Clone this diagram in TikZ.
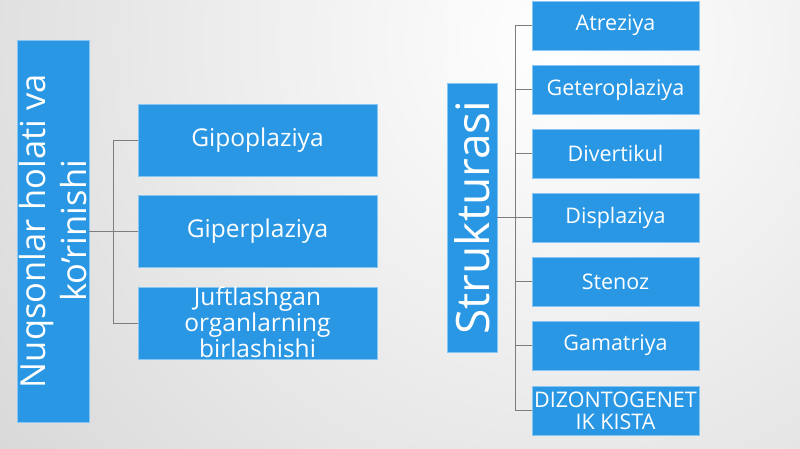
\documentclass[tikz,border=0pt]{standalone}
\usepackage{fontspec}
\setmainfont{Open Sans}
\definecolor{boxblue}{RGB}{41,151,228}
\definecolor{boxedge}{RGB}{135,198,242}
\definecolor{linegray}{RGB}{125,125,125}
\begin{document}
\begin{tikzpicture}[x=1pt, y=-1pt,
    box/.style={fill=boxblue, draw=boxedge, line width=0.8pt, text=white, inner sep=0pt, align=center},
    leftleaf/.style={box, minimum width=239pt, minimum height=72pt, font=\fontsize{24.5}{26}\selectfont},
    rightleaf/.style={box, minimum width=167pt, minimum height=49pt, font=\fontsize{21.5}{22}\selectfont},
    conn/.style={draw=linegray, line width=0.9pt}]
            \useasboundingbox (0, 0) rectangle (800, 449);
            \begin{scope}
                \clip (0, 0) rectangle (800, 449);
                \shade[inner color=white, outer color=gray!30] (560, 40) circle (700);
            \end{scope}
            \node[box, rotate=90, minimum width=382pt, minimum height=72pt, font=\fontsize{34.5}{41}\selectfont](1) at (53, 231) {Nuqsonlar holati va\\ko’rinishi};
            \node[leftleaf](2) at (257.5, 140) {Gipoplaziya};
            \node[leftleaf](3) at (257.5, 231.5) {Giperplaziya};
            \node[leftleaf](4) at (257.5, 323) {};
            \node[text=white, align=center, font=\fontsize{24.5}{26}\selectfont](5) at (257.5, 322) {Juftlashgan\\organlarning\\birlashishi};
            \coordinate(t1) at (113, 231);
            \draw[conn] (1.south) -- (t1) (t1) |- (2.west) (t1) |- (3.west) (t1) |- (4.west);
            \node[box, rotate=90, minimum width=269pt, minimum height=50pt, font=\fontsize{46}{50}\selectfont](6) at (472, 217.5) {Strukturasi};
            \node[rightleaf](7) at (615.5, 25.5) {Atreziya};
            \node[rightleaf](8) at (615.5, 89.5) {Geteroplaziya};
            \node[rightleaf](9) at (615.5, 153.5) {Divertikul};
            \node[rightleaf](10) at (615.5, 217.5) {Displaziya};
            \node[rightleaf](11) at (615.5, 281.5) {Stenoz};
            \node[rightleaf](12) at (615.5, 345.5) {Gamatriya};
            \node[rightleaf](13) at (615.5, 410.5) {DIZONTOGENET\\IK KISTA};
            \coordinate(t2) at (515, 217.5);
            \draw[conn] (6.south) -- (t2) (t2) |- (7.west) (t2) |- (8.west) (t2) |- (9.west)
                (t2) |- (10.west) (t2) |- (11.west) (t2) |- (12.west) (t2) |- (13.west);
        \end{tikzpicture}
\end{document}
